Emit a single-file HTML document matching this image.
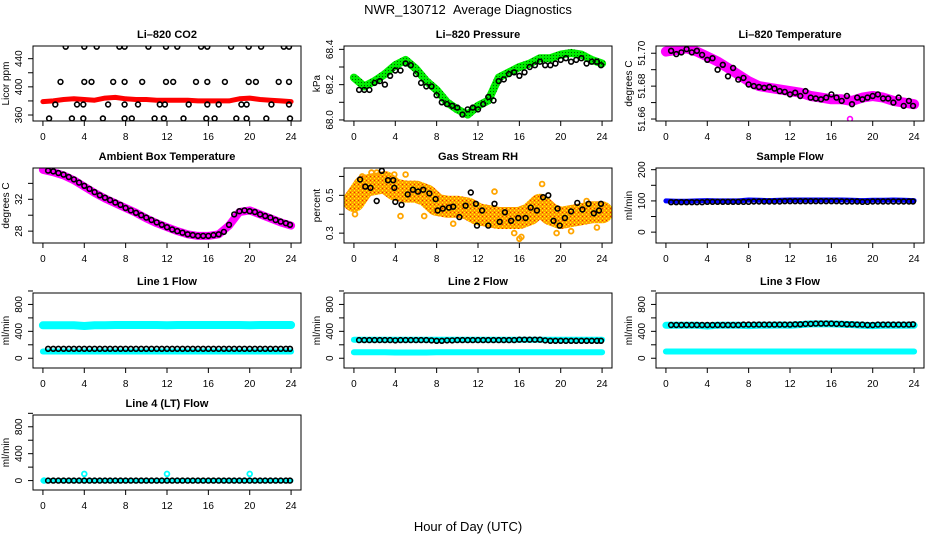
<!DOCTYPE html>
<html><head><meta charset="utf-8">
<style>
html,body{margin:0;padding:0;background:#fff;}
svg{display:block;font-family:"Liberation Sans",Arial,sans-serif;}
</style></head>
<body>
<svg id="chart" width="936" height="540" viewBox="0 0 936 540">
<defs>
<pattern id="rhPat" width="4" height="4" patternUnits="userSpaceOnUse">
<rect width="4" height="4" fill="#ff9f00"/>
<rect x="0" y="0" width="1" height="1" fill="#ffff00"/>
<rect x="2" y="2" width="1" height="1" fill="#ffff00"/>
<rect x="2" y="0" width="1" height="1" fill="#e83000"/>
</pattern>
<pattern id="presPat" width="3" height="3" patternUnits="userSpaceOnUse">
<rect width="3" height="3" fill="#00ee00"/>
<rect x="1" y="1" width="1" height="1" fill="#006000"/>
</pattern>
</defs>
<text x="468" y="14" font-size="13" text-anchor="middle">NWR_130712&#160;&#160;Average Diagnostics</text>
<text x="468" y="531" font-size="13" text-anchor="middle">Hour of Day (UTC)</text>
</svg>
<script>
const bandHours = [0,1,2,3,4,5,6,7,8,9,10,11,12,13,14,15,16,17,18,19,20,21,22,23,24];
const ptHours = [0.5,1,1.5,2,2.5,3,3.5,4,4.5,5,5.5,6,6.5,7,7.5,8,8.5,9,9.5,10,10.5,11,11.5,12,12.5,13,13.5,14,14.5,15,15.5,16,16.5,17,17.5,18,18.5,19,19.5,20,20.5,21,21.5,22,22.5,23,23.5,23.9];
const xTicks = [0,4,8,12,16,20,24];

const co2Band = [379,380,382,383,382,381,384,385,383,382,382,381,381,381,381,380,380,380,380,383,384,382,381,380,379];
const co2PtHours = [2.2,4,5.2,7.4,7.9,10.2,11.9,13,15.3,15.9,18.2,19.9,21.1,23.3,23.8,
 1.7,4,4.7,6.8,7.9,9.6,11.9,12.6,14.8,15.9,17.6,19.9,20.6,22.8,23.8,
 1.2,3.3,3.9,6.3,7.9,9.2,11.3,11.8,14.1,15.9,17,19.2,19.7,22.1,23.8,
 0.6,2.8,3.9,5.8,7.9,8.6,10.8,11.7,13.6,15.8,16.6,18.7,19.7,21.6,23.9];
const co2PtVals = [457,457,457,457,457,457,457,457,457,457,457,457,457,457,457,
 407,407,407,407,407,407,407,407,407,407,407,407,407,407,407,
 375,375,375,375,375,375,375,375,375,375,375,375,375,375,375,
 355,355,355,355,355,355,355,355,355,355,355,355,355,355,355];

const presBand = [68.24,68.19,68.22,68.26,68.31,68.34,68.29,68.22,68.17,68.10,68.06,68.03,68.08,68.11,68.24,68.27,68.30,68.32,68.35,68.35,68.37,68.38,68.37,68.34,68.32];
const presPts = [68.17,68.17,68.17,68.21,68.22,68.20,68.25,68.28,68.28,68.32,68.31,68.26,68.21,68.19,68.19,68.14,68.10,68.09,68.08,68.07,68.03,68.06,68.07,68.06,68.09,68.13,68.11,68.22,68.23,68.26,68.27,68.25,68.27,68.30,68.31,68.33,68.31,68.31,68.32,68.34,68.35,68.33,68.34,68.35,68.32,68.33,68.33,68.31];

const tempBand = [51.701,51.702,51.703,51.701,51.698,51.695,51.691,51.687,51.683,51.680,51.679,51.678,51.677,51.676,51.674,51.673,51.672,51.672,51.671,51.673,51.674,51.673,51.671,51.670,51.669];
const tempPts = [51.7015,51.6995,51.7005,51.7025,51.7005,51.7015,51.699,51.696,51.697,51.690,51.693,51.686,51.691,51.684,51.685,51.681,51.680,51.6795,51.679,51.6795,51.6785,51.677,51.6765,51.675,51.676,51.674,51.677,51.673,51.6725,51.672,51.673,51.675,51.673,51.671,51.674,51.669,51.673,51.672,51.673,51.674,51.675,51.6725,51.6725,51.670,51.673,51.668,51.671,51.668];
const tempOutHours = [17.8];
const tempOutVals = [51.660];

const ambBand = [35.7,35.4,35.0,34.4,33.6,32.8,32.1,31.5,30.9,30.3,29.6,29.0,28.5,28.0,27.6,27.4,27.4,27.6,28.7,30.4,30.6,30.1,29.6,29.1,28.7];
const ambPts = [35.6,35.5,35.3,35.1,34.8,34.5,34.1,33.7,33.3,32.9,32.5,32.2,31.9,31.6,31.3,30.9,30.6,30.3,30.0,29.7,29.4,29.1,28.8,28.5,28.2,28.0,27.8,27.6,27.5,27.4,27.4,27.4,27.5,27.6,27.9,28.8,30.1,30.5,30.6,30.5,30.4,30.1,29.9,29.7,29.4,29.2,29.0,28.8];

const rhBand = [0.47,0.55,0.56,0.57,0.53,0.52,0.52,0.50,0.45,0.44,0.44,0.43,0.40,0.39,0.38,0.38,0.38,0.40,0.45,0.40,0.38,0.39,0.40,0.41,0.41];
const rhPtHours = [0.6,1.1,1.6,2.2,2.7,3.3,3.8,3.9,4,4.6,5.2,5.7,6.2,6.7,7.3,7.9,8.1,8.6,9.2,9.6,10.2,10.8,11.3,11.8,11.9,12.4,13,13.6,14.1,14.6,15.2,15.9,16.6,17.1,17.7,18.3,18.8,19.3,19.7,19.9,20.4,21,21.6,22.1,22.7,23.2,23.7,23.9];
const rhPtVals = [0.584,0.546,0.54,0.47,0.63,0.58,0.58,0.54,0.465,0.45,0.505,0.53,0.52,0.53,0.51,0.48,0.42,0.43,0.435,0.44,0.385,0.445,0.515,0.455,0.34,0.42,0.34,0.455,0.36,0.41,0.365,0.38,0.38,0.435,0.42,0.49,0.50,0.365,0.43,0.34,0.38,0.415,0.46,0.425,0.455,0.405,0.42,0.455];
const rhOutHours = [0.1,0.8,1.7,2.2,3.9,4.5,5,6.8,9.6,13.6,15.5,16,16.2,18.2,19.6,21,22.5,23.5];
const rhOutVals = [0.40,0.60,0.62,0.62,0.61,0.39,0.61,0.39,0.35,0.52,0.30,0.27,0.28,0.56,0.30,0.31,0.47,0.33];

const sampleBand = [100,99,99,100,101,100,100,100,103,102,101,102,103,103,103,103,103,103,102,101,102,102,103,102,101];
const samplePts = [96,96,96,96,96,96,96,97,97,97,97,97,97,97,97,97,98,98,98,98,98,98,99,99,99,99,99,99,99,99,99,99,99,98,98,98,98,97,97,98,98,98,98,98,98,98,98,98];

const line1Upper = [490,490,490,490,480,490,490,495,495,495,495,495,490,495,495,495,495,495,495,495,490,495,495,495,495];
const line1Lower = [100,100,100,100,100,100,100,100,100,100,100,100,100,100,100,100,100,100,100,100,100,100,100,100,100];
const line1Pts = [140,140,140,140,140,140,140,140,140,140,140,140,140,140,140,140,140,140,140,140,140,140,140,140,140,140,140,140,140,140,140,140,140,140,140,140,140,140,140,140,140,140,140,140,140,140,140,140];
const line2Upper = [275,275,275,275,275,275,275,275,275,275,275,275,275,275,275,275,275,275,275,275,275,275,275,275,275];
const line2Lower = [90,90,90,90,85,85,85,85,90,90,90,90,90,90,90,90,90,90,90,90,90,90,90,90,90];
const line2Pts = [270,270,270,270,270,270,270,265,270,270,270,270,270,270,265,260,260,265,265,270,270,270,270,270,270,270,270,270,270,270,270,275,275,275,275,275,265,260,260,260,260,260,260,260,260,260,260,260];
const line3Upper = [490,490,490,490,480,490,490,490,485,490,490,495,490,500,510,510,510,505,500,490,485,490,490,490,490];
const line3Lower = [100,100,100,100,100,100,100,100,100,100,100,100,100,100,100,100,100,100,100,100,100,100,100,100,100];
const line3Pts = [495,495,495,495,495,495,495,495,495,495,495,495,495,495,500,500,500,500,500,500,500,500,500,500,505,505,510,510,515,515,515,515,510,510,505,505,500,500,495,495,500,500,500,500,500,500,500,505];
const line4Band = [0,0,0,0,0,0,0,0,0,0,0,0,0,0,0,0,0,0,0,0,0,0,0,0,0];
const line4Pts = [0,0,0,0,0,0,0,0,0,0,0,0,0,0,0,0,0,0,0,0,0,0,0,0,0,0,0,0,0,0,0,0,0,0,0,0,0,0,0,0,0,0,0,0,0,0,0,0];
const line4OutHours = [0.1,4,12,20];
const line4OutVals = [0,100,100,100];

const NS = 'http://www.w3.org/2000/svg';
const svg = document.getElementById('chart');
function mk(tag, attrs, parent){ const e=document.createElementNS(NS,tag); for(const k in attrs) e.setAttribute(k,attrs[k]); (parent||svg).appendChild(e); return e; }

const colLeft = [33, 344, 656];
const rowTop = [46, 168, 293, 415];
const BW = 268, BH = 75;
const XMIN = -0.96, XMAX = 24.96;

function panel(cfg){
  const L = colLeft[cfg.col], T = rowTop[cfg.row];
  const g = mk('g', {});
  
  
  const sx = h => L + (h - XMIN) / (XMAX - XMIN) * BW;
  const sy = v => T + BH - (v - cfg.ymin) / (cfg.ymax - cfg.ymin) * BH;
  const t = mk('text', {x: L + BW/2, y: T - 8, 'font-size': 11, 'font-weight': 'bold', 'text-anchor': 'middle'}, g);
  t.textContent = cfg.title;
  
  
  const clip = mk('clipPath', {id: 'clip-' + cfg.name}, g);
  mk('rect', {x: L, y: T, width: BW, height: BH}, clip);
  const plot = mk('g', {'clip-path': 'url(#clip-' + cfg.name + ')'}, g);
  
  
  (cfg.bands || []).forEach((b, i) => {
    const pts = bandHours.map((h, j) => sx(h).toFixed(1) + ',' + sy(b.vals[j]).toFixed(1)).join(' ');
    const pl = mk('polyline', {points: pts, fill: 'none', stroke: b.color, 'stroke-width': b.w, 'stroke-linejoin': 'round', 'stroke-linecap': 'round'}, plot);
    
    
  });
  (cfg.points || []).forEach((p, i) => {
    p.hours.forEach((h, j) => {
      const c = mk('circle', {cx: sx(h).toFixed(1), cy: sy(p.vals[j]).toFixed(1), r: p.r || 2.4, fill: 'none', stroke: p.color, 'stroke-width': p.sw || 1.6}, plot);
      
      
    });
  });
  const box = mk('rect', {x: L, y: T, width: BW, height: BH, fill: 'none', stroke: '#000', 'stroke-width': 1}, g);
  
  
  const xa = mk('g', {}, g);
  
  
  xTicks.forEach(v => {
    mk('line', {x1: sx(v), x2: sx(v), y1: T + BH, y2: T + BH + 5, stroke: '#000'}, xa);
    const tx = mk('text', {x: sx(v), y: T + BH + 19, 'font-size': 10, 'text-anchor': 'middle'}, xa);
    tx.textContent = String(v);
    
    
  });
  const ya = mk('g', {}, g);
  
  
  cfg.yTicks.forEach(v => {
    mk('line', {x1: L - 5, x2: L, y1: sy(v), y2: sy(v), stroke: '#000'}, ya);
  });
  cfg.yLabels.forEach((lab, i) => {
    const y = sy(cfg.yLabelVals[i]);
    const tx = mk('text', {x: L - 11, y: y, 'font-size': 10, 'text-anchor': 'middle', transform: 'rotate(-90 ' + (L - 11) + ' ' + y + ')'}, ya);
    tx.textContent = lab;
    
    
  });
  const yt = mk('text', {x: L - 24, y: T + BH/2, 'font-size': 10, 'text-anchor': 'middle', transform: 'rotate(-90 ' + (L - 24) + ' ' + (T + BH/2) + ')'}, g);
  yt.textContent = cfg.ytitle;
  
  
}

panel({name: 'co2', title: 'Li\u2013820 CO2', col: 0, row: 0, ymin: 351.5, ymax: 458, ytitle: 'Licor ppm',
  yTicks: [360,380,400,420,440], yLabels: ['360','400','440'], yLabelVals: [360,400,440],
  bands: [{vals: co2Band, color: '#ff0000', w: 5}],
  points: [{hours: co2PtHours, vals: co2PtVals, color: '#000'}]});
panel({name: 'pressure', title: 'Li\u2013820 Pressure', col: 1, row: 0, ymin: 67.994, ymax: 68.419, ytitle: 'kPa',
  yTicks: [68.0,68.1,68.2,68.3,68.4], yLabels: ['68.0','68.2','68.4'], yLabelVals: [68.0,68.2,68.4],
  bands: [{vals: presBand, color: 'url(#presPat)', w: 8}],
  points: [{hours: ptHours, vals: presPts, color: '#000'}]});
panel({name: 'li820-temp', title: 'Li\u2013820 Temperature', col: 2, row: 0, ymin: 51.6588, ymax: 51.7044, ytitle: 'degrees C',
  yTicks: [51.66,51.67,51.68,51.69,51.70], yLabels: ['51.66','51.68','51.70'], yLabelVals: [51.66,51.68,51.70],
  bands: [{vals: tempBand, color: '#ff00ff', w: 10}],
  points: [{hours: tempOutHours, vals: tempOutVals, color: '#ff00ff'}, {hours: ptHours, vals: tempPts, color: '#000'}]});
panel({name: 'ambient-temp', title: 'Ambient Box Temperature', col: 0, row: 1, ymin: 26.51, ymax: 35.93, ytitle: 'degrees C',
  yTicks: [28,30,32,34], yLabels: ['28','32'], yLabelVals: [28,32],
  bands: [{vals: ambBand, color: '#ff00ff', w: 8}],
  points: [{hours: ptHours, vals: ambPts, color: '#000'}]});
panel({name: 'gas-rh', title: 'Gas Stream RH', col: 1, row: 1, ymin: 0.2478, ymax: 0.6446, ytitle: 'percent',
  yTicks: [0.3,0.4,0.5,0.6], yLabels: ['0.3','0.5'], yLabelVals: [0.3,0.5],
  bands: [{vals: rhBand, color: 'url(#rhPat)', w: 22}],
  points: [{hours: rhOutHours, vals: rhOutVals, color: '#ffa500', sw: 1.8}, {hours: rhPtHours, vals: rhPtVals, color: '#000'}]});
panel({name: 'sample-flow', title: 'Sample Flow', col: 2, row: 1, ymin: -34.8, ymax: 205.4, ytitle: 'ml/min',
  yTicks: [0,50,100,150,200], yLabels: ['0','100','200'], yLabelVals: [0,100,200],
  bands: [{vals: sampleBand, color: '#0000ff', w: 5}],
  points: [{hours: ptHours, vals: samplePts, color: '#000'}]});
const flowTicks = [0,200,400,600,800,1000];
panel({name: 'line1-flow', title: 'Line 1 Flow', col: 0, row: 2, ymin: -145, ymax: 970, ytitle: 'ml/min',
  yTicks: flowTicks, yLabels: ['0','400','800'], yLabelVals: [0,400,800],
  bands: [{vals: line1Upper, color: '#00ffff', w: 8}, {vals: line1Lower, color: '#00ffff', w: 6}],
  points: [{hours: ptHours, vals: line1Pts, color: '#000'}]});
panel({name: 'line2-flow', title: 'Line 2 Flow', col: 1, row: 2, ymin: -145, ymax: 970, ytitle: 'ml/min',
  yTicks: flowTicks, yLabels: ['0','400','800'], yLabelVals: [0,400,800],
  bands: [{vals: line2Upper, color: '#00ffff', w: 6}, {vals: line2Lower, color: '#00ffff', w: 6}],
  points: [{hours: ptHours, vals: line2Pts, color: '#000'}]});
panel({name: 'line3-flow', title: 'Line 3 Flow', col: 2, row: 2, ymin: -145, ymax: 970, ytitle: 'ml/min',
  yTicks: flowTicks, yLabels: ['0','400','800'], yLabelVals: [0,400,800],
  bands: [{vals: line3Upper, color: '#00ffff', w: 7}, {vals: line3Lower, color: '#00ffff', w: 6}],
  points: [{hours: ptHours, vals: line3Pts, color: '#000'}]});
panel({name: 'line4-flow', title: 'Line 4 (LT) Flow', col: 0, row: 3, ymin: -140, ymax: 975, ytitle: 'ml/min',
  yTicks: flowTicks, yLabels: ['0','400','800'], yLabelVals: [0,400,800],
  bands: [{vals: line4Band, color: '#00ffff', w: 5}],
  points: [{hours: line4OutHours, vals: line4OutVals, color: '#00ffff', sw: 1.8}, {hours: ptHours, vals: line4Pts, color: '#000'}]});
</script>
</body></html>
